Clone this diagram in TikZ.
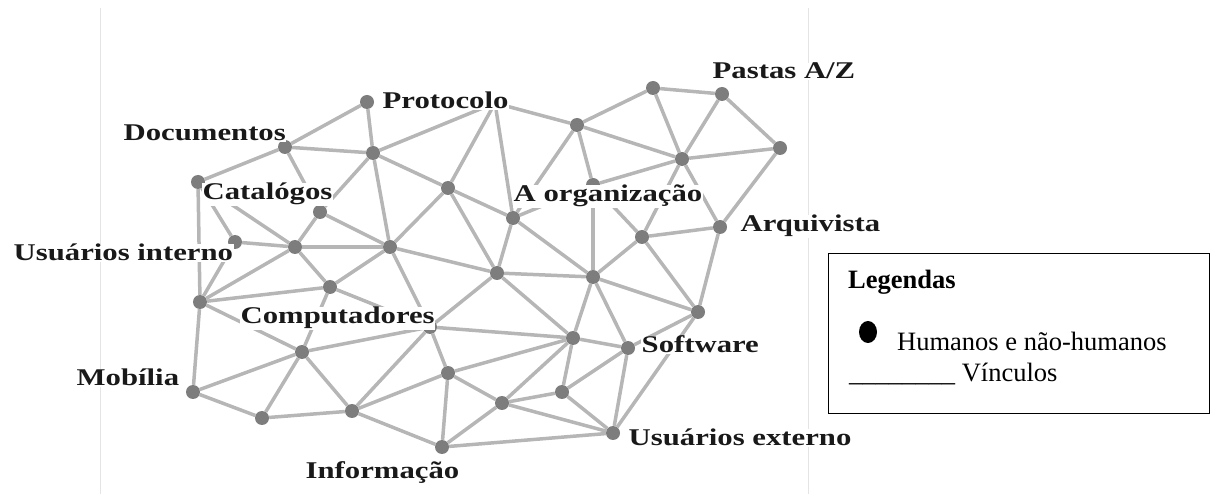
\documentclass[tikz,border=0pt]{standalone}
\usepackage{fontspec}
\setmainfont{Liberation Serif}
\usepackage{tikz}
\usetikzlibrary{backgrounds}
\usetikzlibrary{shapes.geometric}

\definecolor{actorgray}{RGB}{125,125,125}
\definecolor{tiegray}{RGB}{182,182,182}
\definecolor{framegray}{RGB}{228,228,228}
\newcommand{\wide}[1]{\scalebox{1.28}[1]{#1}}

\tikzset{
	actor/.style={circle,fill=actorgray,inner sep=0pt,minimum size=14pt},
	tag/.style={font=\fontsize{24}{28}\selectfont\bfseries,text=black!90,fill=white,inner sep=0.5pt,anchor=base west},
	key/.style={font=\fontsize{26.5}{30}\selectfont,inner sep=0pt,anchor=base west}
}

\begin{document}
\begin{tikzpicture}[x=1pt,y=-1pt]
	\useasboundingbox (0,0) rectangle (1211,494);

	\begin{scope}[every node/.style={actor}]
		\node (prot) at (367,102) {};
		\node (prot2) at (495,103) {};
		\node (doc) at (285,147) {};
		\node (v1) at (373,153) {};
		\node (cat) at (198,182) {};
		\node (v2) at (320,212) {};
		\node (usint) at (235,242) {};
		\node (v3) at (295,247) {};
		\node (v4) at (390,247) {};
		\node (v5) at (448,188) {};
		\node (org) at (513,218) {};
		\node (v6) at (200,302) {};
		\node (v7) at (330,287) {};
		\node (comp) at (430,327) {};
		\node (v8) at (302,352) {};
		\node (mob) at (193,392) {};
		\node (v9) at (262,418) {};
		\node (v10) at (352,411) {};
		\node (info) at (442,447) {};
		\node (v11) at (497,273) {};
		\node (v12) at (577,125) {};
		\node (v13) at (653,88) {};
		\node (pastas) at (722,94) {};
		\node (v14) at (780,148) {};
		\node (v15) at (682,159) {};
		\node (org2) at (593,185) {};
		\node (arq) at (720,227) {};
		\node (v17) at (642,237) {};
		\node (v16) at (593,277) {};
		\node (v18) at (698,312) {};
		\node (v19) at (573,338) {};
		\node (soft) at (628,348) {};
		\node (v20) at (448,373) {};
		\node (v21) at (562,392) {};
		\node (v22) at (502,403) {};
		\node (usext) at (613,433) {};
	\end{scope}

	\begin{scope}[on background layer]
		\draw[framegray,line width=1pt] (100,8) -- (100,494);
		\draw[framegray,line width=1pt] (808,8) -- (808,494);
	\end{scope}

	\begin{scope}[on background layer,every edge/.style={draw=tiegray,line width=3.5pt}]
		\path (prot) edge (doc) edge (v1);
		\path (doc) edge (v1) edge (cat) edge (v2);
		\path (v1) edge (v2) edge (v4) edge (v5) edge (prot2);
		\path (cat) edge (usint) edge (v3) edge (v6);
		\path (v2) edge (v3) edge (v4);
		\path (usint) edge (v3) edge (v6);
		\path (v3) edge (v4) edge (v6) edge (v7);
		\path (v4) edge (v7) edge (comp) edge (v11) edge (v5);
		\path (v5) edge (prot2) edge (org) edge (v11);
		\path (prot2) edge (org) edge (v12);
		\path (org) edge (v12) edge (v11) edge (v16) edge (org2);
		\path (v6) edge (v7) edge (v8) edge (mob);
		\path (v7) edge (v8) edge (comp);
		\path (v8) edge (mob) edge (v9) edge (v10) edge (comp);
		\path (mob) edge (v9);
		\path (v9) edge (v10);
		\path (v10) edge (comp) edge (info) edge (v20);
		\path (comp) edge (v20) edge (v19) edge (v11);
		\path (v11) edge (v16) edge (v19);
		\path (v12) edge (v13) edge (v15) edge (org2);
		\path (v13) edge (pastas) edge (v15);
		\path (pastas) edge (v15) edge (v14);
		\path (v14) edge (v15) edge (arq);
		\path (v15) edge (arq) edge (v17) edge (org2);
		\path (org2) edge (v17) edge (v16);
		\path (arq) edge (v17) edge (v18);
		\path (v17) edge (v16) edge (v18);
		\path (v16) edge (v19) edge (soft) edge (v18);
		\path (v18) edge (soft) edge (usext);
		\path (v19) edge (soft) edge (v20) edge (v22) edge (v21);
		\path (soft) edge (v21) edge (usext);
		\path (v20) edge (v22) edge (info);
		\path (v21) edge (v22) edge (usext);
		\path (v22) edge (usext) edge (info);
		\path (info) edge (usext);
	\end{scope}

	% labels
	\node[tag] (protlbl) at (382,109) {\wide{Protocolo}};
	\node[tag] (doclbl) at (123,141) {\wide{Documentos}};
	\node[tag] (catlbl) at (202,200) {\wide{Catalógos}};
	\node[tag] (usintlbl) at (13,261) {\wide{Usuários interno}};
	\node[tag] (complbl) at (240,324) {\wide{Computadores}};
	\node[tag] (moblbl) at (76,386) {\wide{Mobília}};
	\node[tag] (infolbl) at (305,478) {\wide{Informação}};
	\node[tag] (orglbl) at (513,202) {\wide{A organização}};
	\node[tag] (pastaslbl) at (712,79) {\wide{Pastas A/Z}};
	\node[tag] (arqlbl) at (740,232) {\wide{Arquivista}};
	\node[tag] (softlbl) at (641,353) {\wide{Software}};
	\node[tag] (usextlbl) at (628,446) {\wide{Usuários externo}};

	% legenda
	\node[draw=black,line width=1pt,inner sep=0pt,minimum width=381pt,minimum height=160pt,anchor=north west] (legend) at (828,253) {};
	\node[key] (legtitle) at (848,289) {\textbf{Legendas}};
	\node[ellipse,fill=black,inner sep=0pt,minimum width=18pt,minimum height=22pt] (bullet) at (868,332) {};
	\node[key] (humans) at (897,351) {Humanos e não-humanos};
	\node[key] (links) at (849,382) {\_\_\_\_\_\_\_\_ Vínculos};
\end{tikzpicture}
\end{document}
